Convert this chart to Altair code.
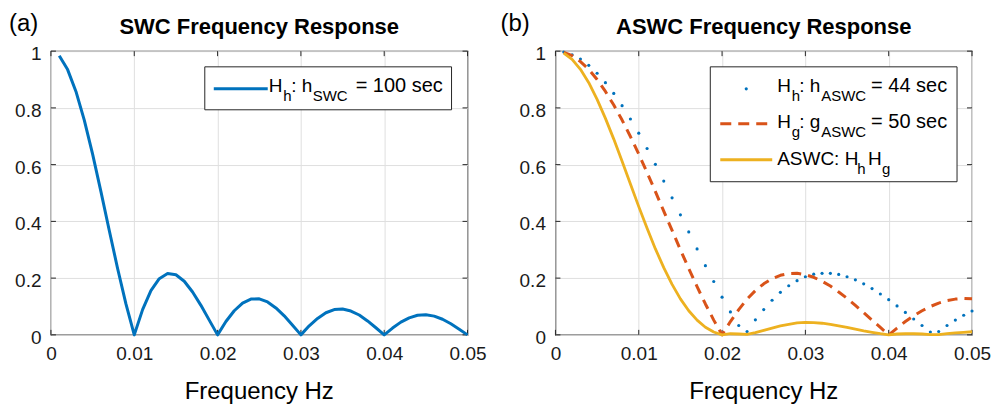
import altair as alt
import pandas as pd

# ---------------- data ----------------
FREQ = [0.001, 0.002, 0.003, 0.004, 0.005, 0.006, 0.007, 0.008, 0.009, 0.010,
        0.011, 0.012, 0.013, 0.014, 0.015, 0.016, 0.017, 0.018, 0.019, 0.020,
        0.021, 0.022, 0.023, 0.024, 0.025, 0.026, 0.027, 0.028, 0.029, 0.030,
        0.031, 0.032, 0.033, 0.034, 0.035, 0.036, 0.037, 0.038, 0.039, 0.040,
        0.041, 0.042, 0.043, 0.044, 0.045, 0.046, 0.047, 0.048, 0.049, 0.050]

SWC_100 = [0.984, 0.935, 0.858, 0.757, 0.637, 0.505, 0.368, 0.234, 0.109, 0.000,
           0.089, 0.156, 0.198, 0.216, 0.212, 0.189, 0.151, 0.104, 0.052, 0.000,
           0.047, 0.085, 0.112, 0.126, 0.127, 0.116, 0.095, 0.067, 0.034, 0.000,
           0.032, 0.058, 0.078, 0.089, 0.091, 0.084, 0.070, 0.049, 0.025, 0.000,
           0.024, 0.045, 0.060, 0.069, 0.071, 0.066, 0.055, 0.039, 0.020, 0.000]

H_44 = [0.997, 0.987, 0.972, 0.950, 0.922, 0.889, 0.851, 0.808, 0.761, 0.711,
        0.657, 0.601, 0.542, 0.483, 0.423, 0.363, 0.303, 0.244, 0.188, 0.133,
        0.081, 0.033, 0.012, 0.053, 0.089, 0.122, 0.150, 0.173, 0.191, 0.205,
        0.214, 0.217, 0.217, 0.213, 0.205, 0.194, 0.180, 0.163, 0.144, 0.124,
        0.102, 0.079, 0.056, 0.033, 0.010, 0.012, 0.033, 0.052, 0.069, 0.084]

G_50 = [0.996, 0.984, 0.963, 0.936, 0.900, 0.858, 0.810, 0.757, 0.699, 0.637,
        0.572, 0.505, 0.436, 0.368, 0.300, 0.234, 0.170, 0.109, 0.052, 0.000,
        0.047, 0.089, 0.126, 0.156, 0.180, 0.198, 0.210, 0.216, 0.217, 0.212,
        0.203, 0.189, 0.172, 0.151, 0.129, 0.104, 0.078, 0.052, 0.026, 0.000,
        0.024, 0.047, 0.067, 0.085, 0.100, 0.112, 0.121, 0.126, 0.128, 0.127]

ASWC = [0.993, 0.971, 0.936, 0.889, 0.830, 0.763, 0.690, 0.612, 0.532, 0.452,
        0.376, 0.303, 0.237, 0.178, 0.127, 0.085, 0.052, 0.027, 0.010, 0.000,
        0.004, 0.003, 0.002, 0.008, 0.016, 0.024, 0.032, 0.037, 0.042, 0.044,
        0.043, 0.041, 0.037, 0.032, 0.026, 0.020, 0.014, 0.009, 0.004, 0.000,
        0.003, 0.004, 0.004, 0.003, 0.001, 0.001, 0.004, 0.007, 0.009, 0.011]

X_TICKS = [0, 0.01, 0.02, 0.03, 0.04, 0.05]
Y_TICKS = [0, 0.2, 0.4, 0.6, 0.8, 1]

# ---------------- style ----------------
W, H = 417, 284
FONT = "Liberation Sans"
FRAME = "#262626"
GRID = "#dfdfdf"
BLUE = "#0072BD"
ORANGE = "#D95319"
YELLOW = "#EDB120"
LEG = 19      # legend main text size
SUB = 15      # legend subscript size

x_scale = alt.Scale(domain=[0, 0.05], nice=False, zero=False)
y_scale = alt.Scale(domain=[0, 1], nice=False)

x_axis = alt.Axis(values=X_TICKS, format="~g", title=None, grid=True, gridColor=GRID,
                  gridWidth=1, ticks=False, domain=False, labelFont=FONT,
                  labelFontSize=19, labelPadding=10, labelColor="#1a1a1a",
                  labelFlush=False, labelOverlap=False)
y_axis = alt.Axis(values=Y_TICKS, format="~g", title=None, grid=True, gridColor=GRID,
                  gridWidth=1, ticks=False, domain=False, labelFont=FONT,
                  labelFontSize=19, labelPadding=10, labelColor="#1a1a1a",
                  labelOffset=2.5, labelFlush=False, labelOverlap=False)

XE = alt.X("f:Q", scale=x_scale, axis=x_axis)
YE = alt.Y("v:Q", scale=y_scale, axis=y_axis)

ONE = alt.Data(values=[{}])


def series(values):
    return pd.DataFrame({"f": FREQ, "v": values})


def ticks():
    xt = pd.DataFrame({"f": X_TICKS})
    yt = pd.DataFrame({"v": Y_TICKS})
    xr = alt.Chart(xt).mark_rule(color=FRAME, strokeWidth=1)
    yr = alt.Chart(yt).mark_rule(color=FRAME, strokeWidth=1)
    return [
        xr.encode(x=XE, y=alt.value(H), y2=alt.value(H - 5)),
        xr.encode(x=XE, y=alt.value(0), y2=alt.value(5)),
        yr.encode(y=YE, x=alt.value(0), x2=alt.value(5)),
        yr.encode(y=YE, x=alt.value(W), x2=alt.value(W - 5)),
    ]


def txt(s, x, y, size=LEG, weight="normal", align="left", color="#000000"):
    return alt.Chart(ONE).mark_text(font=FONT, fontSize=size, fontWeight=weight,
                                    align=align, baseline="alphabetic",
                                    color=color).encode(
        x=alt.value(x), y=alt.value(y), text=alt.value(s))


def box(x1, x2, y1, y2):
    return alt.Chart(ONE).mark_rect(fill="white", stroke=FRAME, strokeWidth=1).encode(
        x=alt.value(x1), x2=alt.value(x2), y=alt.value(y1), y2=alt.value(y2))


def sample(x1, x2, y, color, width, dash=None):
    kw = dict(color=color, strokeWidth=width)
    if dash:
        kw["strokeDash"] = dash
    return alt.Chart(ONE).mark_rule(**kw).encode(
        x=alt.value(x1), x2=alt.value(x2), y=alt.value(y))


def common(label, lx, title):
    return [
        txt(label, lx, -20, size=24),
        txt(title, W / 2, -17, size=22, weight="bold", align="center"),
        txt("Frequency Hz", W / 2, 347.7, size=24, align="center"),
    ]


# ---------------- left panel ----------------
swc_line = alt.Chart(series(SWC_100)).mark_line(
    color=BLUE, strokeWidth=3, strokeJoin="round").encode(x=XE, y=YE)

left_layers = ticks() + [swc_line] + [
    box(154, 401, 15.7, 58.7),
    sample(163, 217, 37.7, BLUE, 3),
    txt("H", 218, 40.7),
    txt("h", 232.5, 49.5, size=SUB),
    txt(": h", 240.5, 40.7),
    txt("SWC", 262, 49.5, size=SUB),
    txt("= 100 sec", 305, 40.7, size=20),
] + common("(a)", -42, "SWC Frequency Response")

left = alt.layer(*left_layers).properties(width=W, height=H)

# ---------------- right panel ----------------
h_dots = alt.Chart(series(H_44)).mark_circle(color=BLUE, size=10, opacity=1).encode(
    x=XE, y=YE)
g_line = alt.Chart(series(G_50)).mark_line(
    color=ORANGE, strokeWidth=3, strokeDash=[10, 7], strokeJoin="round").encode(
    x=XE, y=YE)
a_line = alt.Chart(series(ASWC)).mark_line(
    color=YELLOW, strokeWidth=2.8, strokeJoin="round").encode(x=XE, y=YE)

right_layers = ticks() + [h_dots, g_line, a_line] + [
    box(155, 402, 15.7, 130.7),
    alt.Chart(ONE).mark_circle(color=BLUE, size=10, opacity=1).encode(
        x=alt.value(191), y=alt.value(37.7)),
    txt("H", 222, 40.7),
    txt("h", 236.5, 49.5, size=SUB),
    txt(": h", 244, 40.7),
    txt("ASWC", 266, 49.5, size=SUB),
    txt("= 44 sec", 316, 40.7, size=20),
    sample(165, 217, 72.7, ORANGE, 3, [11, 7]),
    txt("H", 222, 77.4),
    txt("g", 236.5, 86.3, size=SUB),
    txt(": g", 244, 77.4),
    txt("ASWC", 266, 86.3, size=SUB),
    txt("= 50 sec", 316, 77.4, size=20),
    sample(165, 217, 108.7, YELLOW, 3),
    txt("ASWC: H", 222, 114),
    txt("h", 302, 122.5, size=SUB),
    txt("H", 313, 114),
    txt("g", 327, 122.5, size=SUB),
] + common("(b)", -55, "ASWC Frequency Response")

right = alt.layer(*right_layers).properties(width=W, height=H)

chart = alt.hconcat(left, right, spacing=88, bounds="flush").properties(
    padding={"left": 8, "top": 11, "right": 0, "bottom": 0},
    autosize=alt.AutoSizeParams(type="pad"),
    background="white",
).configure_view(stroke=FRAME, strokeWidth=1.2)

chart.save("out.html", embed_options={"renderer": "svg", "actions": False})
